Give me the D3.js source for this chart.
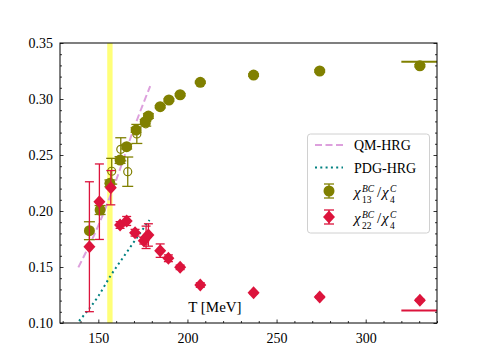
<!DOCTYPE html>
<html>
<head>
<meta charset="utf-8">
<script src="https://cdn.jsdelivr.net/npm/d3@7"></script>
<style>
  body { margin: 0; background: #fff; }
  svg { display: block; font-family: "Liberation Serif", "DejaVu Serif", serif; }
</style>
</head>
<body>
<svg id="chart"></svg>
<script>
// chi13/chi4, filled symbols
const c13T   = [145.0, 151.0, 156.5, 162.2, 165.9, 171.2, 176.3, 178.1, 184.7, 189.6, 195.9, 207.2, 237.1, 274.2, 330.4];
const c13Val = [0.1824, 0.2009, 0.2247, 0.2455, 0.2574, 0.2723, 0.2797, 0.2848, 0.2931, 0.2991, 0.3038, 0.3149, 0.3214, 0.3250, 0.3297];
const c13Err = [0.008, 0.004, 0.003, 0.003, 0.002, 0.002, 0.002, 0.002, 0.001, 0.001, 0.001, 0.001, 0.001, 0.001, 0.001];

// chi13/chi4, open symbols
const c13oT   = [157.5, 162.6, 166.5, 171.6, 176.6];
const c13oVal = [0.2355, 0.2551, 0.2351, 0.2688, 0.2778];
const c13oErr = [0.0115, 0.0103, 0.0131, 0.0085, 0.002];

// chi22/chi4
const c22T   = [145.0, 150.6, 157.0, 162.2, 165.9, 170.6, 175.5, 176.8, 178.1, 184.7, 189.3, 195.9, 207.2, 237.1, 274.2, 330.4];
const c22Val = [0.1681, 0.2083, 0.2208, 0.1875, 0.1911, 0.1806, 0.1735, 0.1765, 0.1786, 0.1646, 0.1578, 0.1497, 0.1339, 0.1271, 0.1232, 0.1203];
const c22Err = [0.058, 0.0337, 0.0153, 0.003, 0.004, 0.003, 0.003, 0.010, 0.010, 0.006, 0.003, 0.002, 0.002, 0.001, 0.001, 0.001];

// HRG curves
const qmT   = [138.8, 150, 160, 170, 179.1];
const qmVal = [0.1497, 0.1870, 0.2275, 0.2740, 0.3116];
const pdgT   = [139.2, 150, 157, 165, 172, 178.7];
const pdgVal = [0.1018, 0.1240, 0.1425, 0.1610, 0.1770, 0.1920];

// limits at high T
const limit13 = 1 / 3, limit22 = 1 / 9, limitFrom = 320;
const tcBand = [155, 158];

const xTicks = [150, 200, 250, 300];
const yTicks = [0.10, 0.15, 0.20, 0.25, 0.30, 0.35];

const layout = {"width": 486, "height": 364,
                "left": 60, "right": 437, "top": 43, "bottom": 323};

const olive = "#808000", crimson = "#dc143c";

const svg = d3.select("#chart")
  .attr("width", layout.width)
  .attr("height", layout.height);

const x = d3.scaleLinear().domain([128.5, 340]).range([layout.left, layout.right]);
const y = d3.scaleLinear().domain([0.10, 0.35]).range([layout.bottom, layout.top]);

svg.append("defs").append("clipPath").attr("id", "clip")
  .append("rect")
  .attr("x", layout.left).attr("y", layout.top)
  .attr("width", layout.right - layout.left)
  .attr("height", layout.bottom - layout.top);

const plot = svg.append("g").attr("clip-path", "url(#clip)");

// pseudo-critical band
plot.append("rect")
  .attr("x", x(tcBand[0]))
  .attr("y", layout.top)
  .attr("width", x(tcBand[1]) - x(tcBand[0]))
  .attr("height", layout.bottom - layout.top)
  .attr("fill", "#ffff78");

// axes (ticks inward)
const minorX = d3.range(130, 341, 10).filter(t => !xTicks.includes(t));
const minorY = d3.range(10, 36).map(v => v / 100).filter(v => !yTicks.some(t => Math.abs(t - v) < 1e-9));

svg.append("g").attr("transform", `translate(0,${layout.bottom})`)
  .call(d3.axisBottom(x).tickValues(xTicks).tickSizeInner(-3.5).tickSizeOuter(0).tickPadding(10));
svg.append("g").attr("transform", `translate(0,${layout.bottom})`)
  .call(d3.axisBottom(x).tickValues(minorX).tickSizeInner(-2).tickSizeOuter(0).tickFormat(""));

svg.append("g").attr("transform", `translate(${layout.left},0)`)
  .call(d3.axisLeft(y).tickValues(yTicks).tickFormat(d3.format(".2f")).tickSizeInner(-3.5).tickSizeOuter(0).tickPadding(7));
svg.append("g").attr("transform", `translate(${layout.left},0)`)
  .call(d3.axisLeft(y).tickValues(minorY).tickSizeInner(-2).tickSizeOuter(0).tickFormat(""));

svg.append("g").attr("transform", `translate(${layout.right},0)`)
  .call(d3.axisRight(y).tickValues(yTicks).tickSizeInner(-3.5).tickSizeOuter(0).tickFormat(""));
svg.append("g").attr("transform", `translate(${layout.right},0)`)
  .call(d3.axisRight(y).tickValues(minorY).tickSizeInner(-2).tickSizeOuter(0).tickFormat(""));

svg.selectAll(".domain").remove();
svg.selectAll(".tick text")
  .attr("font-family", "Liberation Serif, serif")
  .attr("font-size", 14)
  .attr("fill", "#000");
svg.selectAll(".tick line").attr("stroke", "#000").attr("stroke-width", 0.8);

svg.append("rect")
  .attr("x", layout.left).attr("y", layout.top)
  .attr("width", layout.right - layout.left)
  .attr("height", layout.bottom - layout.top)
  .attr("fill", "none")
  .attr("stroke", "#000")
  .attr("stroke-width", 1);

// HRG lines
const line = d3.line().x(d => x(d[0])).y(d => y(d[1])).curve(d3.curveMonotoneX);

plot.append("path")
  .datum(qmT.map((t, i) => [t, qmVal[i]]))
  .attr("d", line)
  .attr("fill", "none")
  .attr("stroke", "plum")
  .attr("stroke-width", 2)
  .attr("stroke-dasharray", "7,3.5");

plot.append("path")
  .datum(pdgT.map((t, i) => [t, pdgVal[i]]))
  .attr("d", line)
  .attr("fill", "none")
  .attr("stroke", "teal")
  .attr("stroke-width", 2)
  .attr("stroke-dasharray", "2,3.3");

// limit lines
plot.append("line")
  .attr("x1", x(limitFrom)).attr("x2", x(340))
  .attr("y1", y(limit13)).attr("y2", y(limit13))
  .attr("stroke", olive).attr("stroke-width", 2);
plot.append("line")
  .attr("x1", x(limitFrom)).attr("x2", x(340))
  .attr("y1", y(limit22)).attr("y2", y(limit22))
  .attr("stroke", crimson).attr("stroke-width", 2);

function errorBars(g, T, V, E, color, cap) {
  const rows = T.map((t, i) => ({t: t, v: V[i], e: E[i]}));
  const eb = g.append("g").attr("stroke", color).attr("stroke-width", 1.3);
  eb.selectAll(".bar").data(rows).join("line")
    .attr("x1", d => x(d.t)).attr("x2", d => x(d.t))
    .attr("y1", d => y(d.v - d.e)).attr("y2", d => y(d.v + d.e));
  eb.selectAll(".capT").data(rows).join("line")
    .attr("x1", d => x(d.t) - cap).attr("x2", d => x(d.t) + cap)
    .attr("y1", d => y(d.v + d.e)).attr("y2", d => y(d.v + d.e));
  eb.selectAll(".capB").data(rows).join("line")
    .attr("x1", d => x(d.t) - cap).attr("x2", d => x(d.t) + cap)
    .attr("y1", d => y(d.v - d.e)).attr("y2", d => y(d.v - d.e));
  return rows;
}

// open olive points
const openRows = errorBars(plot, c13oT, c13oVal, c13oErr, olive, 5.5);
plot.selectAll(".open").data(openRows).join("circle")
  .attr("cx", d => x(d.t)).attr("cy", d => y(d.v)).attr("r", 4)
  .attr("fill", "none").attr("stroke", olive).attr("stroke-width", 1.2);

// filled olive points
const c13Rows = errorBars(plot, c13T, c13Val, c13Err, olive, 5.5);
plot.selectAll(".c13").data(c13Rows).join("circle")
  .attr("cx", d => x(d.t)).attr("cy", d => y(d.v)).attr("r", 5.5)
  .attr("fill", olive);

// red diamonds
const diamond = "M0,-6.5L6,0L0,6.5L-6,0Z";
const c22Rows = errorBars(plot, c22T, c22Val, c22Err, crimson, 4.5);
plot.selectAll(".c22").data(c22Rows).join("path")
  .attr("transform", d => `translate(${x(d.t)},${y(d.v)})`)
  .attr("d", diamond)
  .attr("fill", crimson);

// axis label inside plot
svg.append("text")
  .attr("x", x(200.4)).attr("y", 312)
  .attr("font-size", 15)
  .text("T [MeV]");

// legend
const lg = svg.append("g");
lg.append("rect")
  .attr("x", 307.5).attr("y", 134)
  .attr("width", 122).attr("height", 99)
  .attr("rx", 3)
  .attr("fill", "#fff").attr("fill-opacity", 0.8)
  .attr("stroke", "#d0d0d0").attr("stroke-width", 1);

const hx0 = 315, hx1 = 343, hxm = 329, tx = 354;
const rowY = [145, 167.5, 191, 217];

lg.append("line").attr("x1", hx0).attr("x2", hx1).attr("y1", rowY[0]).attr("y2", rowY[0])
  .attr("stroke", "plum").attr("stroke-width", 2).attr("stroke-dasharray", "7,3.5");
lg.append("text").attr("x", tx).attr("y", rowY[0] + 5).attr("font-size", 14).text("QM-HRG");

lg.append("line").attr("x1", hx0).attr("x2", hx1).attr("y1", rowY[1]).attr("y2", rowY[1])
  .attr("stroke", "teal").attr("stroke-width", 2).attr("stroke-dasharray", "2,3.3");
lg.append("text").attr("x", tx).attr("y", rowY[1] + 5).attr("font-size", 14).text("PDG-HRG");

function legendBar(cy, color) {
  const g = lg.append("g").attr("stroke", color).attr("stroke-width", 1.3);
  g.append("line").attr("x1", hxm).attr("x2", hxm).attr("y1", cy - 7).attr("y2", cy + 7);
  g.append("line").attr("x1", hxm - 5).attr("x2", hxm + 5).attr("y1", cy - 7).attr("y2", cy - 7);
  g.append("line").attr("x1", hxm - 5).attr("x2", hxm + 5).attr("y1", cy + 7).attr("y2", cy + 7);
}
legendBar(rowY[2], olive);
lg.append("circle").attr("cx", hxm).attr("cy", rowY[2]).attr("r", 5.5).attr("fill", olive);
legendBar(rowY[3], crimson);
lg.append("path").attr("transform", `translate(${hxm},${rowY[3]})`).attr("d", diamond).attr("fill", crimson);

function chiRatio(cy, sub) {
  const t = lg.append("g").attr("font-style", "italic");
  t.append("text").attr("x", tx).attr("y", cy + 6).attr("font-size", 15).text("χ");
  t.append("text").attr("x", tx + 8).attr("y", cy + 1).attr("font-size", 9.5).text("BC");
  t.append("text").attr("x", tx + 8).attr("y", cy + 12).attr("font-size", 9.5).attr("font-style", "normal").text(sub);
  t.append("text").attr("x", tx + 23).attr("y", cy + 6).attr("font-size", 15).attr("font-style", "normal").text("/");
  t.append("text").attr("x", tx + 28).attr("y", cy + 6).attr("font-size", 15).text("χ");
  t.append("text").attr("x", tx + 36).attr("y", cy + 1).attr("font-size", 9.5).text("C");
  t.append("text").attr("x", tx + 36).attr("y", cy + 12).attr("font-size", 9.5).attr("font-style", "normal").text("4");
}
chiRatio(rowY[2], "13");
chiRatio(rowY[3], "22");
</script>
</body>
</html>
